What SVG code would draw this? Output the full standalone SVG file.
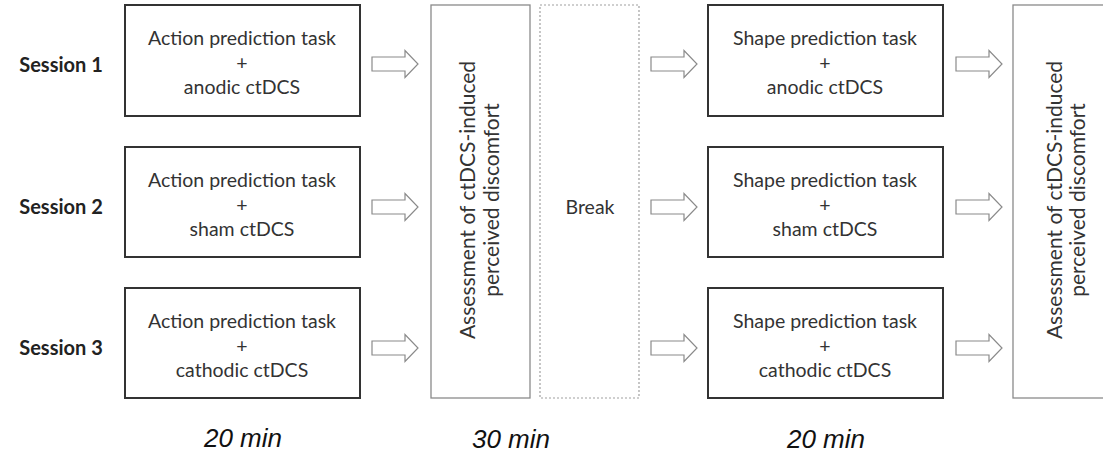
<svg xmlns="http://www.w3.org/2000/svg" width="1103" height="455" viewBox="0 0 1103 455">
<style>
  .task { fill: #fff; stroke: #333; stroke-width: 2; }
  .assess { fill: #fff; stroke: #8a8a8a; stroke-width: 1.3; }
  .brk { fill: #fff; stroke: #a0a0a0; stroke-width: 1.2; stroke-dasharray: 2 2; }
  .t { font-family: Lato, "Open Sans", "Liberation Sans", sans-serif; font-size: 19.5px; fill: #333; text-anchor: middle; }
  .v { font-size: 21px; }
  .sess { font-family: Lato, "Liberation Sans", sans-serif; font-size: 20px; font-weight: bold; fill: #222; text-anchor: middle; }
  .dur { font-family: "Liberation Sans", Arial, sans-serif; font-size: 26px; font-style: italic; fill: #111; text-anchor: middle; }
  .arr { fill: #fff; stroke: #8a8a8a; stroke-width: 1.2; }
</style>
<defs>
  <path id="arrow" class="arr" d="M0,-7 H33 V-13.5 L46,0 L33,13.5 V7 H0 Z"/>
</defs>
<rect width="1103" height="455" fill="#fff"/>

<g id="labels">
  <text class="sess" x="61" y="72">Session 1</text>
  <text class="sess" x="61" y="214">Session 2</text>
  <text class="sess" x="61" y="355">Session 3</text>
</g>

<g id="action1">
  <rect class="task" x="125" y="5" width="235" height="111"/>
  <text class="t" x="242" y="45">Action prediction task</text>
  <text class="t" x="242" y="70">+</text>
  <text class="t" x="242" y="94">anodic ctDCS</text>
</g>
<g id="action2">
  <rect class="task" x="125" y="147" width="235" height="110"/>
  <text class="t" x="242" y="187">Action prediction task</text>
  <text class="t" x="242" y="212">+</text>
  <text class="t" x="242" y="236">sham ctDCS</text>
</g>
<g id="action3">
  <rect class="task" x="125" y="288" width="235" height="110"/>
  <text class="t" x="242" y="328">Action prediction task</text>
  <text class="t" x="242" y="353">+</text>
  <text class="t" x="242" y="377">cathodic ctDCS</text>
</g>

<g id="assess1">
  <rect class="assess" x="431" y="5" width="99" height="393"/>
  <text class="t v" transform="translate(475,200) rotate(-90)">Assessment of ctDCS-induced</text>
  <text class="t v" transform="translate(499,200) rotate(-90)">perceived discomfort</text>
</g>

<g id="break">
  <rect class="brk" x="540" y="5" width="99" height="393"/>
  <text class="t" x="590" y="214">Break</text>
</g>

<g id="shape1">
  <rect class="task" x="708" y="5" width="235" height="111"/>
  <text class="t" x="825" y="45">Shape prediction task</text>
  <text class="t" x="825" y="70">+</text>
  <text class="t" x="825" y="94">anodic ctDCS</text>
</g>
<g id="shape2">
  <rect class="task" x="708" y="147" width="235" height="110"/>
  <text class="t" x="825" y="187">Shape prediction task</text>
  <text class="t" x="825" y="212">+</text>
  <text class="t" x="825" y="236">sham ctDCS</text>
</g>
<g id="shape3">
  <rect class="task" x="708" y="288" width="235" height="110"/>
  <text class="t" x="825" y="328">Shape prediction task</text>
  <text class="t" x="825" y="353">+</text>
  <text class="t" x="825" y="377">cathodic ctDCS</text>
</g>

<g id="assess2">
  <rect class="assess" x="1013" y="5" width="100" height="393"/>
  <text class="t v" transform="translate(1062,200) rotate(-90)">Assessment of ctDCS-induced</text>
  <text class="t v" transform="translate(1085,200) rotate(-90)">perceived discomfort</text>
</g>

<g id="connectors">
  <use href="#arrow" x="372" y="64"/>
  <use href="#arrow" x="372" y="207"/>
  <use href="#arrow" x="372" y="348"/>
  <use href="#arrow" x="651" y="64"/>
  <use href="#arrow" x="651" y="207"/>
  <use href="#arrow" x="651" y="348"/>
  <use href="#arrow" x="956" y="64"/>
  <use href="#arrow" x="956" y="207"/>
  <use href="#arrow" x="956" y="348"/>
</g>

<g id="durations">
  <text class="dur" x="243" y="447">20 min</text>
  <text class="dur" x="511" y="448">30 min</text>
  <text class="dur" x="826" y="448">20 min</text>
</g>
</svg>
